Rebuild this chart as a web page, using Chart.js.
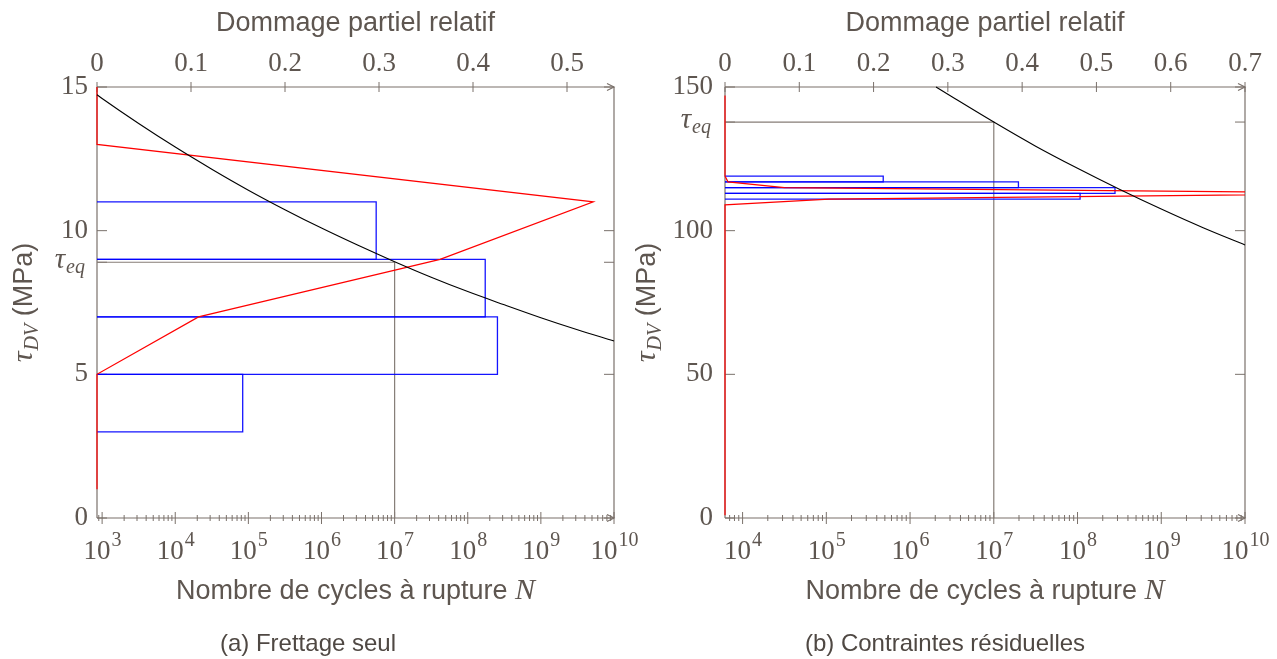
<!DOCTYPE html>
<html lang="fr">
<head>
<meta charset="utf-8">
<title>Dommage partiel relatif</title>
<script src="https://cdn.jsdelivr.net/npm/chart.js@4.4.1/dist/chart.umd.min.js"></script>
<style>
  html,body{margin:0;padding:0;background:#fff;}
  body{position:relative;width:1277px;height:659px;overflow:hidden;}
  canvas{position:absolute;top:0;}
  #chartA{left:0;}
  #chartB{left:630px;}
  .cap{position:absolute;top:631px;width:400px;text-align:center;font:24px/24px "Liberation Sans",Arial,sans-serif;color:#4f4843;white-space:nowrap;}
</style>
</head>
<body>
<canvas id="chartA" width="640" height="659"></canvas>
<canvas id="chartB" width="647" height="659"></canvas>
<div class="cap" style="left:108px">(a) Frettage seul</div>
<div class="cap" style="left:745px">(b) Contraintes résiduelles</div>
<script>
// ---------------- (a) Frettage seul ----------------
const aSNLogN   = [2.93, 3, 3.5, 4, 4.5, 5, 5.5, 6, 6.5, 7, 7.5, 8, 8.5, 9, 9.5, 10];
const aSNTau    = [14.73, 14.60, 13.73, 12.91, 12.14, 11.41, 10.73, 10.09, 9.49, 8.92, 8.38, 7.88, 7.42, 6.97, 6.55, 6.16];
const aBinLo    = [3, 5, 7, 9];
const aBinHi    = [5, 7, 9, 11];
const aBinDmg   = [0.155, 0.426, 0.413, 0.297];
const aRedTau   = [1, 5, 7, 9, 11, 13, 15];
const aRedDmg   = [0, 0, 0.108, 0.365, 0.528, 0, 0];
const aTauEq    = 8.9;
const aNEq      = 1e7;
const aYTicks   = [0, 5, 10, 15];
const aTopTicks = [0, 0.1, 0.2, 0.3, 0.4, 0.5];
const aDecades  = [3, 4, 5, 6, 7, 8, 9, 10];
const aLogNMin  = 2.93;
const aDmgMax   = 0.55;
const aTauMax   = 15;

// ---------------- (b) Contraintes résiduelles ----------------
const bSNLogN   = [6.31, 6.5, 7, 7.5, 8, 8.5, 9, 9.5, 10];
const bSNTau    = [150, 146.6, 137.8, 129.4, 121.7, 114.4, 107.5, 101.0, 95.0];
const bBinLo    = [111, 113, 115, 117];
const bBinHi    = [113, 115, 117, 119];
const bBinDmg   = [0.478, 0.525, 0.395, 0.213];
const bRedTau   = [1, 109, 111, 113, 115, 117, 119, 147];
const bRedDmg   = [0, 0, 0.14, 0.9, 0.08, 0.004, 0, 0];
const bTauEq    = 137.8;
const bNEq      = 1e7;
const bYTicks   = [0, 50, 100, 150];
const bTopTicks = [0, 0.1, 0.2, 0.3, 0.4, 0.5, 0.6, 0.7];
const bDecades  = [4, 5, 6, 7, 8, 9, 10];
const bLogNMin  = 3.79;
const bDmgMax   = 0.7;
const bTauMax   = 150;

// ---------------- styling ----------------
const SERIF = '"Liberation Serif", "DejaVu Serif", serif';
const SANS  = '"Liberation Sans", Arial, sans-serif';
const AXIS  = '#7a716b';
const TEXT  = '#5e5650';
const GUIDE = '#867d77';

function line(ctx, x1, y1, x2, y2) {
  ctx.beginPath(); ctx.moveTo(x1, y1); ctx.lineTo(x2, y2); ctx.stroke();
}
function arrow(ctx, x, y) {
  ctx.beginPath(); ctx.moveTo(x - 7, y - 3.5); ctx.lineTo(x, y); ctx.lineTo(x - 7, y + 3.5); ctx.stroke();
}

const decor = {
  id: 'decor',
  beforeDatasetsDraw(chart, args, o) {
    const {ctx, chartArea: a} = chart;
    const xs = chart.scales.x, ys = chart.scales.y, x2 = chart.scales.x2;
    ctx.save();
    ctx.strokeStyle = AXIS; ctx.lineWidth = 1.2;
    line(ctx, a.left, a.bottom, a.left, a.top);
    line(ctx, a.right, a.bottom, a.right, a.top);
    line(ctx, a.left, a.top, a.right, a.top);
    line(ctx, a.left, a.bottom, a.right, a.bottom);
    arrow(ctx, a.right, a.top);
    arrow(ctx, a.right, a.bottom);
    ctx.lineWidth = 1;
    // y ticks (inward, both sides)
    o.yTicks.concat([o.tauEq]).forEach(v => {
      const py = ys.getPixelForValue(v);
      line(ctx, a.left, py, a.left + 10, py);
      line(ctx, a.right - 10, py, a.right, py);
    });
    // top ticks
    o.topTicks.forEach(v => {
      const px = x2.getPixelForValue(v);
      line(ctx, px, a.top - 5, px, a.top + 5);
    });
    // bottom ticks: majors and minors
    const lo = Math.floor(Math.log10(xs.min));
    for (let e = lo; e <= 10; e++) {
      for (let k = 1; k <= 9; k++) {
        const v = k * Math.pow(10, e);
        if (v < xs.min * 0.999 || v > xs.max * 1.001) continue;
        const px = xs.getPixelForValue(v);
        const h = k === 1 ? 6 : 3;
        line(ctx, px, a.bottom - h, px, a.bottom + h);
      }
    }
    ctx.restore();
  },
  afterDraw(chart, args, o) {
    const {ctx, chartArea: a} = chart;
    const xs = chart.scales.x, ys = chart.scales.y;
    ctx.save();
    ctx.fillStyle = TEXT;
    ctx.textBaseline = 'alphabetic';
    // bottom tick labels 10^e
    o.decades.forEach(e => {
      const px = xs.getPixelForValue(Math.pow(10, e));
      ctx.font = `27px ${SERIF}`;
      const w1 = ctx.measureText('10').width;
      ctx.font = `20px ${SERIF}`;
      const es = String(e);
      const w2 = ctx.measureText(es).width;
      const x0 = px - (w1 + w2) / 2;
      ctx.textAlign = 'left';
      ctx.font = `27px ${SERIF}`;
      ctx.fillText('10', x0, 559);
      ctx.font = `20px ${SERIF}`;
      ctx.fillText(es, x0 + w1 + 1, 546);
    });
    // tau_eq label
    {
      const py = ys.getPixelForValue(o.tauEq);
      ctx.font = `italic 20px ${SERIF}`;
      const wSub = ctx.measureText('eq').width;
      ctx.font = `italic 29px ${SERIF}`;
      const wT = ctx.measureText('τ').width;
      const xr = a.left - o.eqGap;
      ctx.textAlign = 'left';
      ctx.fillText('τ', xr - wSub - wT - 1, py + 6);
      ctx.font = `italic 20px ${SERIF}`;
      ctx.fillText('eq', xr - wSub, py + 11);
    }
    // bottom title
    {
      const p1 = 'Nombre de cycles à rupture ';
      ctx.font = `27px ${SANS}`;
      const w1 = ctx.measureText(p1).width;
      ctx.font = `italic 30px ${SERIF}`;
      const w2 = ctx.measureText('N').width;
      const cx = (a.left + a.right) / 2;
      const x0 = cx - (w1 + w2) / 2;
      ctx.textAlign = 'left';
      ctx.font = `27px ${SANS}`;
      ctx.fillText(p1, x0, 599);
      ctx.font = `italic 30px ${SERIF}`;
      ctx.fillText('N', x0 + w1, 599);
    }
    // left title (rotated)
    {
      const cy = (a.top + a.bottom) / 2;
      ctx.translate(o.yTitleX, cy);
      ctx.rotate(-Math.PI / 2);
      ctx.font = `italic 30px ${SERIF}`;
      const wT = ctx.measureText('τ').width;
      ctx.font = `italic 20px ${SERIF}`;
      const wS = ctx.measureText('DV').width;
      ctx.font = `27px ${SANS}`;
      const wP = ctx.measureText(' (MPa)').width;
      let x0 = -(wT + wS + wP + 1) / 2;
      ctx.textAlign = 'left';
      ctx.font = `italic 30px ${SERIF}`;
      ctx.fillText('τ', x0, 9);
      x0 += wT + 1;
      ctx.font = `italic 20px ${SERIF}`;
      ctx.fillText('DV', x0, 15);
      x0 += wS;
      ctx.font = `27px ${SANS}`;
      ctx.fillText(' (MPa)', x0, 9);
    }
    ctx.restore();
  }
};

function buildChart(id, d) {
  const xMin = Math.pow(10, d.logNMin);
  const datasets = [];
  // S-N curve (black)
  datasets.push({
    data: d.snLogN.map((l, i) => ({x: Math.pow(10, l), y: d.snTau[i]})),
    borderColor: '#000', borderWidth: 1.1, xAxisID: 'x', yAxisID: 'y',
    cubicInterpolationMode: 'monotone', clip: 4
  });
  // relative damage profile (red)
  datasets.push({
    data: d.redTau.map((t, i) => ({x: d.redDmg[i], y: t})),
    borderColor: '#ff0000', borderWidth: 1.2, xAxisID: 'x2', yAxisID: 'y',
    clip: {left: 4, top: 4, right: 0, bottom: 4}
  });
  // partial damage per class (blue rectangles)
  d.binLo.forEach((lo, i) => {
    const hi = d.binHi[i], w = d.binDmg[i];
    datasets.push({
      data: [{x: 0, y: lo}, {x: w, y: lo}, {x: w, y: hi}, {x: 0, y: hi}],
      borderColor: 'rgba(0,0,255,0.92)', borderWidth: 1.3, xAxisID: 'x2', yAxisID: 'y', clip: 4
    });
  });
  // tau_eq guide lines
  datasets.push({
    data: [{x: xMin, y: d.tauEq}, {x: d.nEq, y: d.tauEq}, {x: d.nEq, y: 0}],
    borderColor: GUIDE, borderWidth: 1.2, xAxisID: 'x', yAxisID: 'y', clip: 4
  });
  datasets.forEach(ds => { ds.showLine = true; ds.pointRadius = 0; ds.fill = false; });

  return new Chart(document.getElementById(id), {
    type: 'scatter',
    data: {datasets},
    options: {
      responsive: false, animation: false, devicePixelRatio: 1, events: [],
      layout: {padding: 0},
      plugins: {legend: {display: false}, tooltip: {enabled: false},
        decor: {yTicks: d.yTicks, topTicks: d.topTicks, decades: d.decades, tauEq: d.tauEq,
                eqGap: d.eqGap, yTitleX: d.yTitleX}},
      scales: {
        x: {
          type: 'logarithmic', position: 'bottom', min: xMin, max: 1e10,
          afterBuildTicks: s => { s.ticks = d.decades.map(e => ({value: Math.pow(10, e)})); },
          ticks: {display: false}, grid: {display: false, drawTicks: false}, border: {display: false},
          afterFit: s => { s.height = 141; }
        },
        x2: {
          type: 'linear', position: 'top', min: 0, max: d.dmgMax,
          afterBuildTicks: s => { s.ticks = d.topTicks.map(v => ({value: v})); },
          ticks: {font: {family: SERIF, size: 27}, color: TEXT, padding: 7, maxRotation: 0,
                  autoSkip: false, callback: v => String(v)},
          title: {display: true, text: 'Dommage partiel relatif', color: TEXT,
                  font: {family: SANS, size: 27}, padding: {top: 7, bottom: 0}},
          grid: {display: false, drawTicks: false}, border: {display: false},
          afterFit: s => { s.height = 87; }
        },
        y: {
          type: 'linear', position: 'left', min: 0, max: d.tauMax,
          afterBuildTicks: s => { s.ticks = d.yTicks.map(v => ({value: v})); },
          ticks: {font: {family: SERIF, size: 27}, color: TEXT, padding: d.yPad, autoSkip: false,
                  callback: v => String(v)},
          grid: {display: false, drawTicks: false}, border: {display: false},
          afterFit: s => { s.width = d.leftW; }
        },
        y2: {
          type: 'linear', position: 'right', min: 0, max: d.tauMax,
          ticks: {display: false}, grid: {display: false, drawTicks: false}, border: {display: false},
          afterFit: s => { s.width = d.rightW; }
        }
      }
    },
    plugins: [decor]
  });
}

buildChart('chartA', {
  snLogN: aSNLogN, snTau: aSNTau, binLo: aBinLo, binHi: aBinHi, binDmg: aBinDmg,
  redTau: aRedTau, redDmg: aRedDmg, tauEq: aTauEq, nEq: aNEq, yTicks: aYTicks,
  topTicks: aTopTicks, decades: aDecades, logNMin: aLogNMin, dmgMax: aDmgMax, tauMax: aTauMax,
  leftW: 97, rightW: 26, yPad: 9, eqGap: 12, yTitleX: 23
});
buildChart('chartB', {
  snLogN: bSNLogN, snTau: bSNTau, binLo: bBinLo, binHi: bBinHi, binDmg: bBinDmg,
  redTau: bRedTau, redDmg: bRedDmg, tauEq: bTauEq, nEq: bNEq, yTicks: bYTicks,
  topTicks: bTopTicks, decades: bDecades, logNMin: bLogNMin, dmgMax: bDmgMax, tauMax: bTauMax,
  leftW: 95, rightW: 32, yPad: 12, eqGap: 14, yTitleX: 16
});
</script>
</body>
</html>
